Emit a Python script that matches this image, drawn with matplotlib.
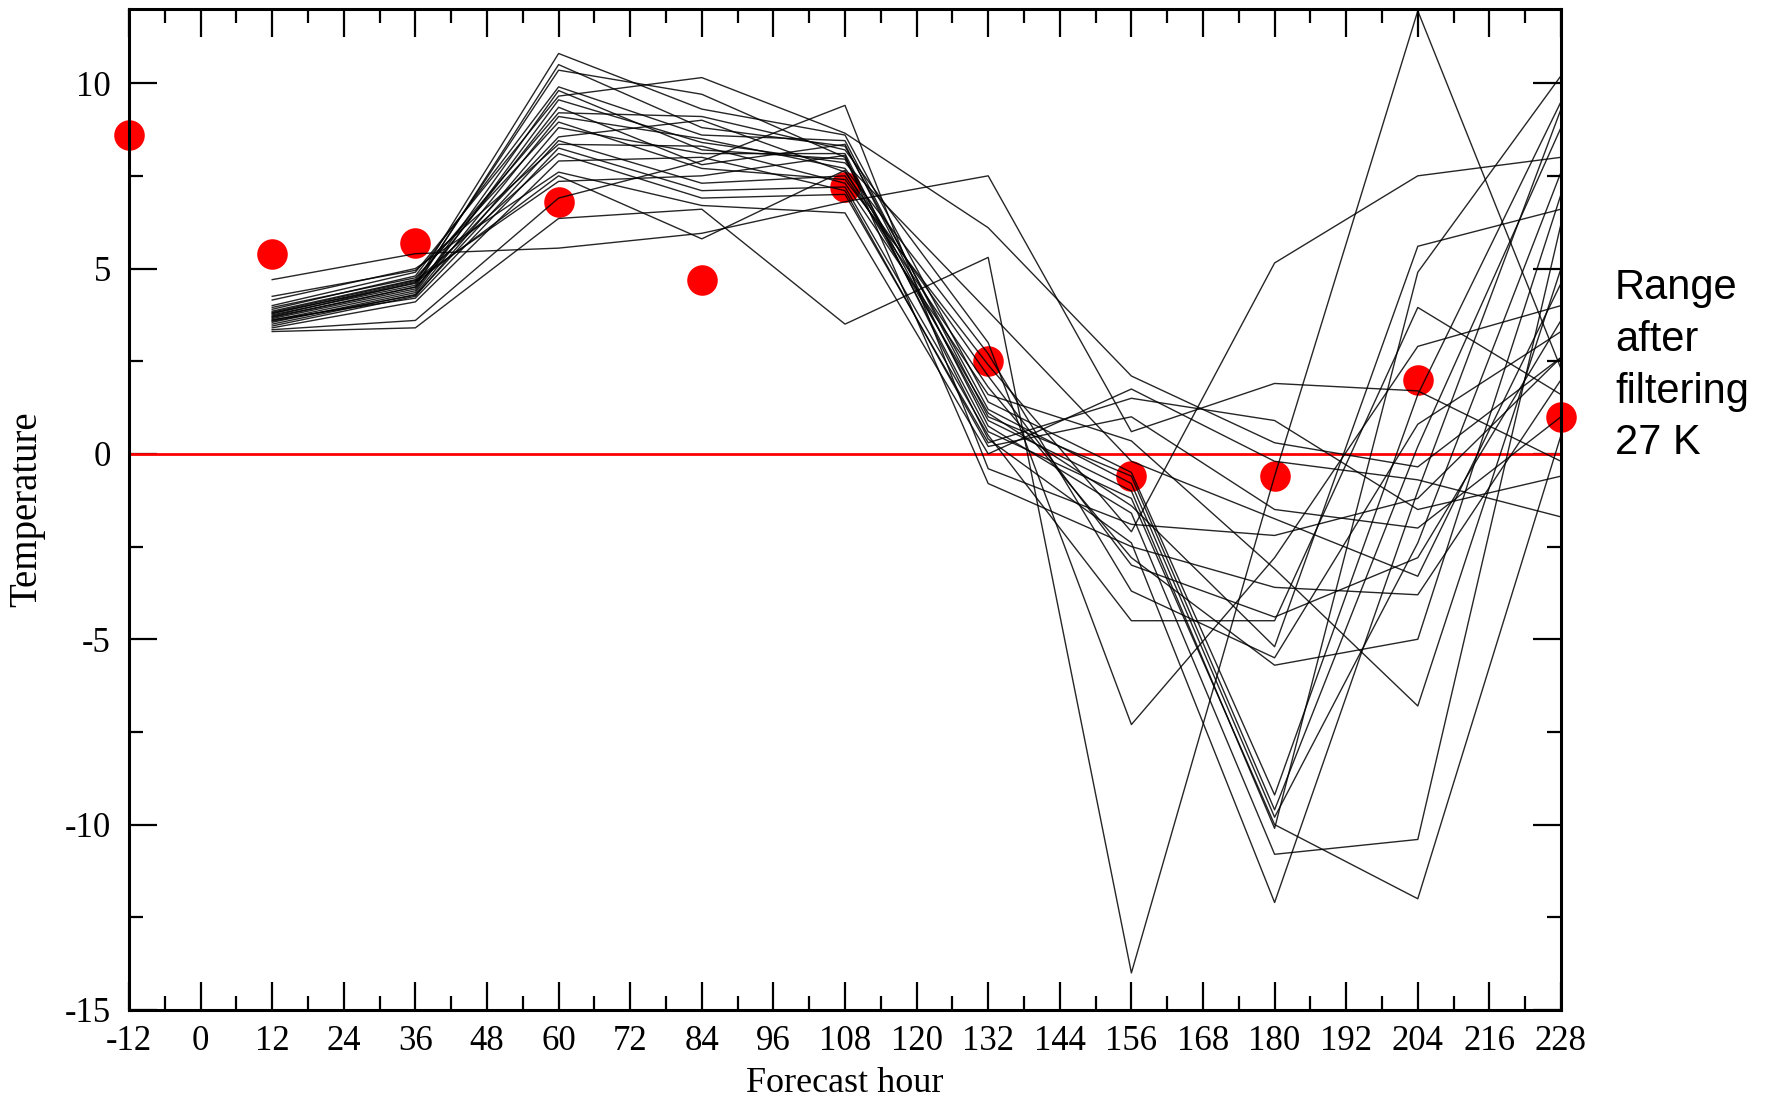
import matplotlib
matplotlib.use("Agg")
import matplotlib.pyplot as plt
from matplotlib.ticker import MultipleLocator, FixedLocator

plt.rcParams["axes.unicode_minus"] = False

# ---------------- data ----------------
member_hours = [12, 36, 60, 84, 108, 132, 156, 180, 204, 228]

m01 = [3.80, 4.60, 10.80, 9.30, 8.60, 1.40, -0.50, -9.20, 1.60, 9.50]
m02 = [3.70, 4.50, 10.50, 8.80, 8.30, 1.20, -0.80, -9.80, -2.40, 7.60]
m03 = [3.75, 4.55, 10.35, 9.70, 8.00, 0.90, -1.00, -10.10, 4.90, 10.20]
m04 = [3.90, 4.80, 9.90, 8.60, 8.45, 1.00, -0.60, -9.60, 0.20, 8.80]
m05 = [3.60, 4.40, 9.80, 8.20, 7.95, 0.60, -1.20, -10.00, -12.00, 0.50]
m06 = [3.45, 4.25, 8.80, 8.10, 8.10, 0.40, -2.40, -12.10, -1.00, 9.30]
m07 = [3.65, 4.45, 9.35, 7.80, 8.35, 0.75, -1.60, -10.80, -10.40, 6.20]
m08 = [4.70, 5.40, 5.55, 5.95, 6.80, 7.50, 0.60, 1.90, 1.70, -0.20]
m09 = [4.00, 4.90, 9.65, 10.15, 8.65, 6.10, 2.10, 0.30, -0.35, 2.60]
m10 = [3.30, 3.40, 6.35, 6.60, 3.50, 5.30, -14.00, -0.60, 11.95, 2.30]
m11 = [3.55, 4.35, 9.55, 8.40, 7.85, 3.85, -0.20, -1.75, -3.30, 4.60]
m12 = [3.85, 4.70, 9.20, 9.10, 8.20, 3.00, -7.30, -2.80, 2.90, 4.00]
m13 = [3.50, 4.30, 9.10, 8.50, 7.70, 2.70, -3.70, -5.50, 0.80, 3.30]
m14 = [3.95, 4.75, 8.95, 7.70, 7.40, 2.40, -2.10, 5.15, 7.50, 8.00]
m15 = [3.68, 4.50, 8.55, 9.00, 7.60, 2.10, -3.00, -4.40, -2.80, 3.60]
m16 = [3.58, 4.28, 8.45, 7.30, 7.50, 1.80, -2.80, -5.70, -5.00, 7.00]
m17 = [4.25, 4.95, 8.35, 8.30, 7.30, 1.60, 0.35, -3.10, -6.80, 5.00]
m18 = [3.62, 4.20, 8.25, 7.10, 7.20, 0.50, -4.50, -4.50, 3.95, 1.60]
m19 = [3.78, 4.65, 8.10, 6.90, 7.00, 0.30, 1.50, 0.90, -1.50, -0.60]
m20 = [3.40, 4.10, 7.90, 8.00, 7.10, 0.20, 1.00, -1.50, -2.00, 1.00]
m21 = [4.15, 5.00, 7.60, 6.70, 6.50, 0.00, 1.75, -0.20, -0.70, -1.70]
m22 = [3.72, 4.62, 7.50, 5.80, 7.65, 1.10, -1.40, -5.20, 5.60, 6.60]
m23 = [3.82, 4.68, 7.35, 7.50, 8.05, -0.80, -2.50, -3.60, -3.80, 2.00]
m24 = [3.35, 3.60, 6.90, 7.90, 9.40, -0.40, -1.90, -2.20, -1.20, 2.60]

members = [m01, m02, m03, m04, m05, m06, m07, m08, m09, m10, m11, m12,
           m13, m14, m15, m16, m17, m18, m19, m20, m21, m22, m23, m24]

obs_hours = [-12, 12, 36, 60, 84, 108, 132, 156, 180, 204, 228]
obs_temp = [8.6, 5.4, 5.7, 6.8, 4.7, 7.2, 2.5, -0.6, -0.6, 2.0, 1.0]

x_ticks = list(range(-12, 229, 12))
y_ticks = [-15, -10, -5, 0, 5, 10]

note_text = "Range\nafter\nfiltering\n27 K"

# ---------------- figure ----------------
serif = ["Liberation Serif", "DejaVu Serif"]
fig = plt.figure(figsize=(17.70, 10.98), dpi=100)
ax = fig.add_axes([129 / 1770, 1 - 1010 / 1098, (1561 - 129) / 1770, (1010 - 9) / 1098])

# observations (under the lines)
ax.plot(obs_hours, obs_temp, linestyle="none", marker="o", markersize=22,
        color="#ff0000", markeredgewidth=0, zorder=2, clip_on=False)

# zero line
ax.axhline(0, color="#ff0000", linewidth=2.0, zorder=2.5)

# ensemble members
for m in members:
    ax.plot(member_hours, m, color="black", linewidth=1.0, alpha=0.85, zorder=3)

ax.set_xlim(-12, 228)
ax.set_ylim(-15, 12)

ax.xaxis.set_major_locator(FixedLocator(x_ticks))
ax.xaxis.set_minor_locator(MultipleLocator(6))
ax.yaxis.set_major_locator(FixedLocator(y_ticks))
ax.yaxis.set_minor_locator(MultipleLocator(2.5))

ax.tick_params(which="both", direction="in", top=True, right=True, width=1.6, color="black")
ax.tick_params(which="major", length=20)
ax.tick_params(which="minor", length=10)
ax.tick_params(axis="x", which="major", pad=11, labelsize=25)
ax.tick_params(axis="y", which="major", pad=13, labelsize=25)
for lab in ax.get_xticklabels() + ax.get_yticklabels():
    lab.set_family(serif)

for sp in ax.spines.values():
    sp.set_linewidth(2.2)

ax.set_xlabel("Forecast hour", fontsize=26, family=serif, labelpad=6)
ax.set_ylabel("Temperature", fontsize=28, family=serif, labelpad=14)

fig.text(1615 / 1770, 1 - 268 / 1098, note_text, fontsize=30,
         family=["Liberation Sans", "DejaVu Sans"], ha="left", va="top",
         linespacing=1.38)

fig.savefig("out.png", dpi=100)
